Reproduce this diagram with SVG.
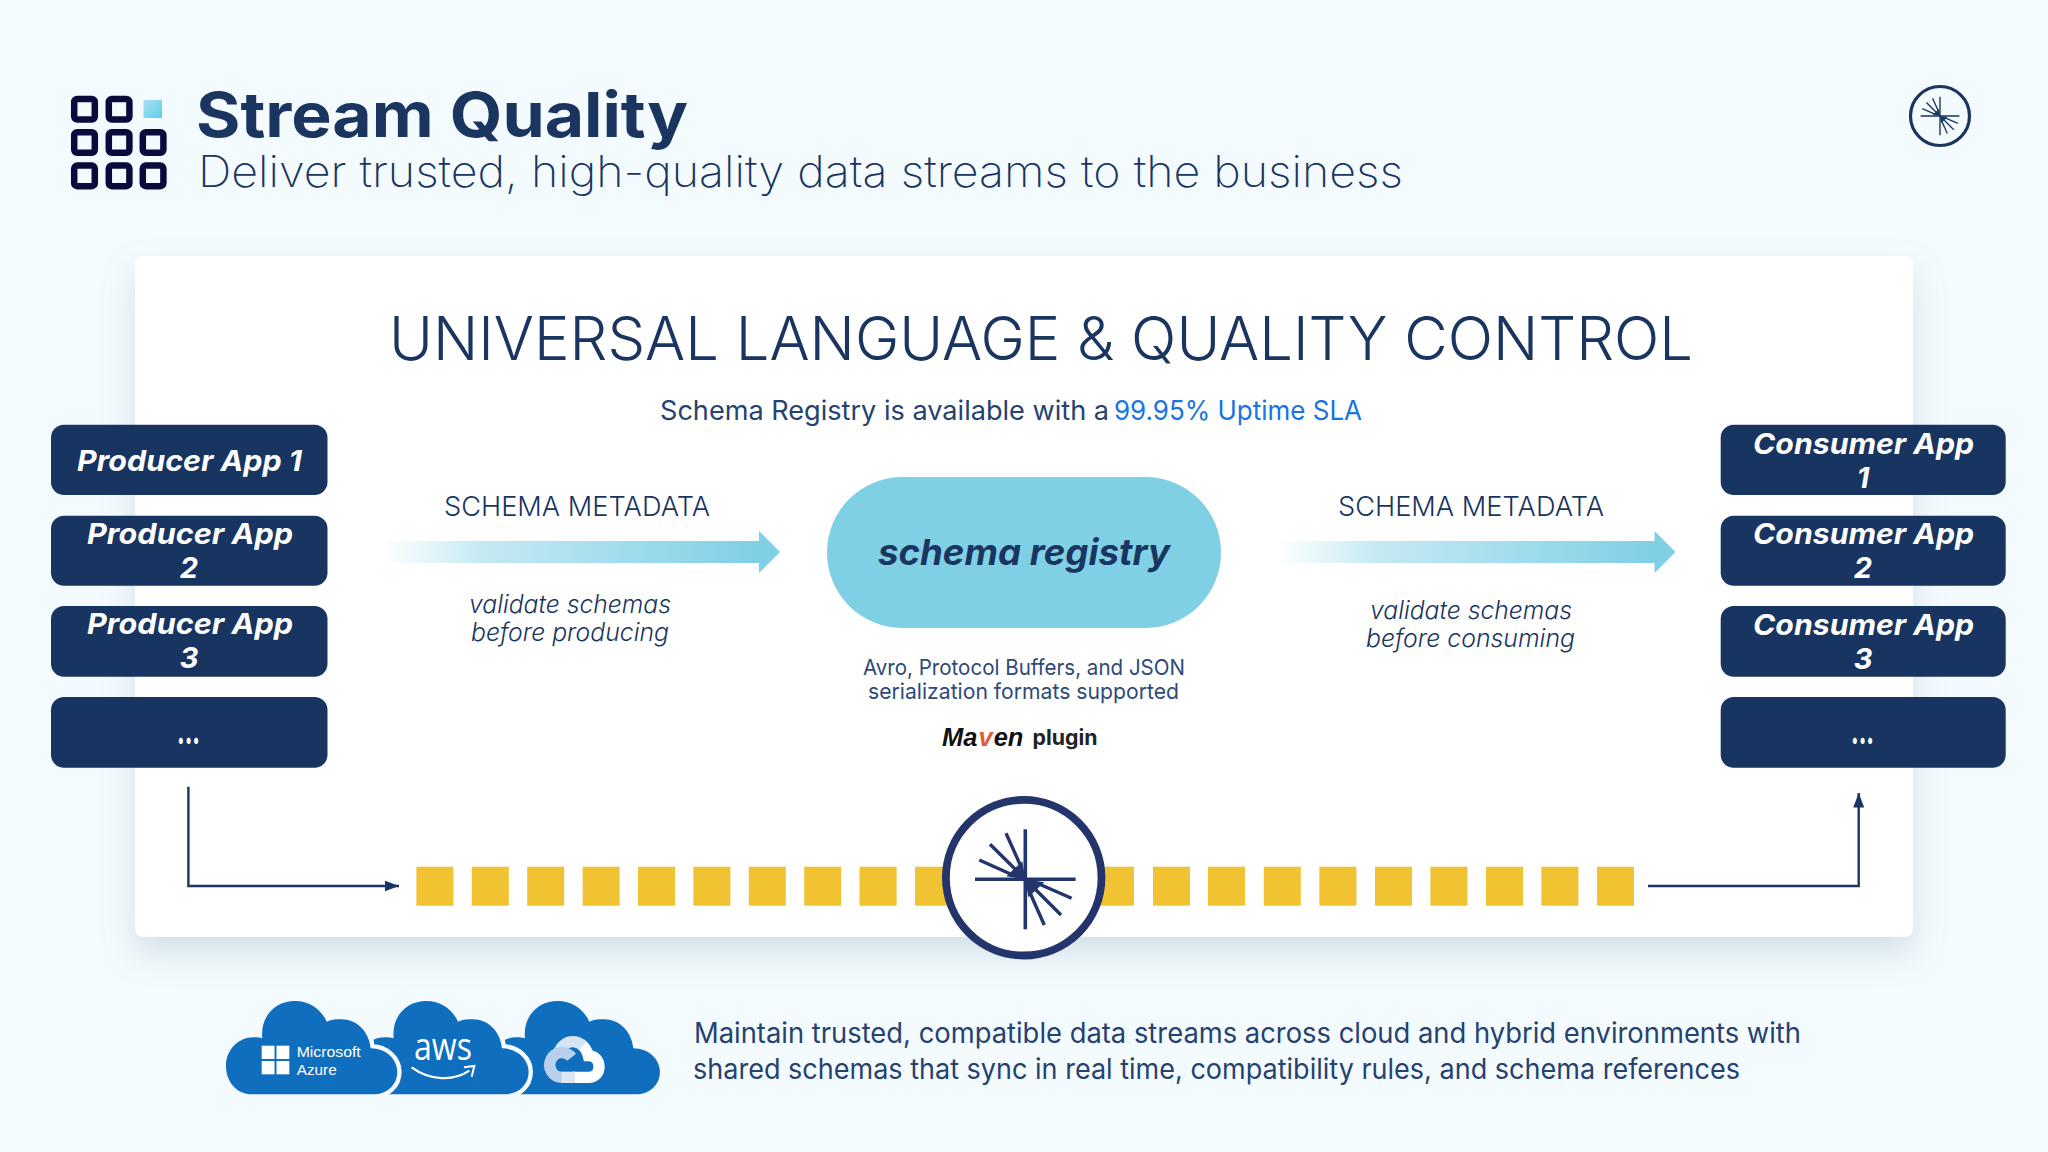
<svg xmlns="http://www.w3.org/2000/svg" xmlns:xlink="http://www.w3.org/1999/xlink" width="2048" height="1152" viewBox="0 0 2048 1152">
<style>
text{font-family:Inter,"Liberation Sans",Arial,sans-serif;fill:#1a3560}
.lt{font-weight:300}
.rg{font-weight:400;fill:#26426f}
.box{fill:#183461}
.bt{fill:#fff;font-weight:700;font-style:italic;font-size:29px}
.dots{fill:#fff;font-weight:800;font-size:34px}
.it{font-style:italic;font-weight:300;font-size:25px}
.meta{font-weight:300;font-size:27px}
.sm{font-size:22px;font-weight:400;fill:#2e4a78}
.body{font-size:28px;font-weight:400;fill:#26426f}
.ico{fill:none;stroke:#0a0a3c;stroke-width:6.5}
.sq{fill:#f1c232}
.conn{fill:none;stroke:#1a3560;stroke-width:2.4}
.ray{stroke-linecap:butt;fill:none}
.cloud{fill:#106ebe;stroke:#f4fbff;stroke-width:26;paint-order:stroke}
.gc{fill:none;stroke-width:34}
.wt{fill:#fff;font-family:"Liberation Sans",Arial,sans-serif}
</style>
<defs>
<linearGradient id="ag" x1="0" y1="0" x2="1" y2="0"><stop offset="0" stop-color="#7fcfe5" stop-opacity="0"/><stop offset=".25" stop-color="#7fcfe5" stop-opacity=".45"/><stop offset=".95" stop-color="#7fcfe5"/></linearGradient>
<linearGradient id="cg" x1="0" y1="0" x2="1" y2="1"><stop offset="0" stop-color="#a9dff0"/><stop offset="1" stop-color="#5dd0ea"/></linearGradient>
<filter id="sh" x="-10%" y="-15%" width="120%" height="135%"><feDropShadow dx="0" dy="16" stdDeviation="16" flood-color="#7f97a8" flood-opacity=".28"/></filter>
<marker id="ah" markerUnits="userSpaceOnUse" markerWidth="16" markerHeight="12" refX="14.5" refY="5.5" orient="auto"><path d="M0 0L14.5 5.5L0 11Z" fill="#1a3560"/></marker>
<polygon id="band" points="382,541 759,541 759,531 780,552 759,573 759,563 382,563" fill="url(#ag)"/>
<path id="cl" d="M125 343C80 343 48 305 48 258C48 210 85 172 130 172C140 172 150 173 157 175C150 110 195 63 255 63C300 63 335 90 350 125C365 118 380 118 395 118C440 118 478 155 482 205C530 205 562 240 562 275C562 315 530 343 490 343Z"/>
<g id="spark" fill="currentColor">
<path d="M-50.3 1.7H50.3V-1.7H-50.3Z"/>
<path d="M-1.8 -50H1.8L1.8 50H-1.8Z"/>
<path d="M-19 -3L-3 -18L0 0Z M19 3L3 18L0 0Z"/>
<g stroke="currentColor" stroke-width="3.4" class="ray">
<path d="M-46 -19.3L-12 -4"/><path d="M-35.3 -35L-8 -8"/><path d="M-19.3 -46L-4 -12"/>
<path d="M46.3 19L12 4"/><path d="M35.7 35.7L8 8"/><path d="M19 45.7L4 12"/>
</g>
</g>
</defs>
<rect width="2048" height="1152" fill="#f4fbff"/>

<g id="header">
<g id="grid-icon">
<rect class="ico" x="74.2" y="98.9" width="20.6" height="20.6" rx="3"/>
<rect class="ico" x="108.8" y="98.9" width="20.6" height="20.6" rx="3"/>
<rect x="143.5" y="100" width="18.5" height="18" fill="url(#cg)"/>
<rect class="ico" x="74.2" y="132.2" width="20.6" height="20.6" rx="3"/>
<rect class="ico" x="108.8" y="132.2" width="20.6" height="20.6" rx="3"/>
<rect class="ico" x="142.8" y="132.2" width="20.6" height="20.6" rx="3"/>
<rect class="ico" x="74.2" y="165.6" width="20.6" height="20.6" rx="3"/>
<rect class="ico" x="108.8" y="165.6" width="20.6" height="20.6" rx="3"/>
<rect class="ico" x="142.8" y="165.6" width="20.6" height="20.6" rx="3"/>
</g>
<text x="196" y="137" font-size="62" font-weight="700" textLength="492" lengthAdjust="spacingAndGlyphs">Stream Quality</text>
<text x="198" y="187" font-size="43" font-weight="200" textLength="1205" lengthAdjust="spacingAndGlyphs">Deliver trusted, high-quality data streams to the business</text>
<g id="corner-logo" color="#1a3560">
<circle cx="1940" cy="116" r="29.5" fill="none" stroke="#1a3560" stroke-width="3.2"/>
<use xlink:href="#spark" href="#spark" transform="translate(1940 116) scale(.385)"/>
</g>
</g>

<g id="card">
<rect x="135" y="256" width="1778" height="681" rx="8" fill="#fff" filter="url(#sh)"/>
<text class="lt" x="389" y="359.5" font-size="60" textLength="1304" lengthAdjust="spacingAndGlyphs">UNIVERSAL LANGUAGE &amp; QUALITY CONTROL</text>
<text class="rg" x="660" y="419.5" font-size="27" textLength="449" lengthAdjust="spacingAndGlyphs">Schema Registry is available with a</text>
<text class="rg" x="1114" y="419.5" font-size="27" style="fill:#1a73e0" textLength="248" lengthAdjust="spacingAndGlyphs">99.95% Uptime SLA</text>
</g>

<g id="connectors">
<use xlink:href="#band" href="#band"/>
<use xlink:href="#band" href="#band" transform="translate(895.5 0)"/>
<path class="conn" d="M188.4 786.7V886H399" marker-end="url(#ah)"/>
<path class="conn" d="M1648 886H1858.7V793" marker-end="url(#ah)"/>
</g>

<g id="labels">
<text class="meta" x="444" y="516" textLength="266" lengthAdjust="spacingAndGlyphs">SCHEMA METADATA</text>
<text class="meta" x="1338" y="516" textLength="266" lengthAdjust="spacingAndGlyphs">SCHEMA METADATA</text>
<text class="it" x="469" y="613" textLength="202" lengthAdjust="spacingAndGlyphs">validate schemas</text>
<text class="it" x="471" y="641" textLength="198" lengthAdjust="spacingAndGlyphs">before producing</text>
<text class="it" x="1370" y="619" textLength="202" lengthAdjust="spacingAndGlyphs">validate schemas</text>
<text class="it" x="1366" y="647" textLength="209" lengthAdjust="spacingAndGlyphs">before consuming</text>
</g>

<g id="producer-1"><rect class="box" x="51" y="424.7" width="276.5" height="70.3" rx="13"/><text class="bt" x="77" y="471" textLength="225" lengthAdjust="spacingAndGlyphs">Producer App 1</text></g>
<g id="producer-2"><rect class="box" x="51" y="515.7" width="276.5" height="70" rx="13"/><text class="bt" x="87" y="544" textLength="206" lengthAdjust="spacingAndGlyphs">Producer App</text><text class="bt" x="189" y="578" text-anchor="middle">2</text></g>
<g id="producer-3"><rect class="box" x="51" y="606" width="276.5" height="70.7" rx="13"/><text class="bt" x="87" y="634" textLength="206" lengthAdjust="spacingAndGlyphs">Producer App</text><text class="bt" x="189" y="668" text-anchor="middle">3</text></g>
<g id="producer-more"><rect class="box" x="51" y="697" width="276.5" height="70.7" rx="13"/><text class="dots" x="188.5" y="743.5" text-anchor="middle" textLength="23" lengthAdjust="spacingAndGlyphs">...</text></g>

<g id="consumer-1"><rect class="box" x="1720.7" y="424.7" width="285" height="70.3" rx="13"/><text class="bt" x="1753" y="454" textLength="221" lengthAdjust="spacingAndGlyphs">Consumer App</text><text class="bt" x="1863" y="487.5" text-anchor="middle">1</text></g>
<g id="consumer-2"><rect class="box" x="1720.7" y="515.7" width="285" height="70" rx="13"/><text class="bt" x="1753" y="544" textLength="221" lengthAdjust="spacingAndGlyphs">Consumer App</text><text class="bt" x="1863" y="578" text-anchor="middle">2</text></g>
<g id="consumer-3"><rect class="box" x="1720.7" y="606" width="285" height="70.7" rx="13"/><text class="bt" x="1753" y="635" textLength="221" lengthAdjust="spacingAndGlyphs">Consumer App</text><text class="bt" x="1863" y="669" text-anchor="middle">3</text></g>
<g id="consumer-more"><rect class="box" x="1720.7" y="697" width="285" height="70.7" rx="13"/><text class="dots" x="1862.5" y="743.5" text-anchor="middle" textLength="23" lengthAdjust="spacingAndGlyphs">...</text></g>

<g id="schema-registry">
<rect x="827" y="477" width="394" height="151" rx="75.5" fill="#7fcfe5"/>
<text x="878" y="565" font-size="36" font-weight="700" font-style="italic" textLength="292" lengthAdjust="spacingAndGlyphs">schema registry</text>
<text class="sm" x="863" y="674.5" textLength="322" lengthAdjust="spacingAndGlyphs">Avro, Protocol Buffers, and JSON</text>
<text class="sm" x="868" y="698.5" textLength="311" lengthAdjust="spacingAndGlyphs">serialization formats supported</text>
<text x="942" y="746" font-size="25.5" font-weight="700" font-style="italic" style="font-family:'Liberation Sans',sans-serif;fill:#111">Ma<tspan style="fill:#d9603a" dx="1">v</tspan><tspan dx="1">en</tspan></text>
<text x="1032.5" y="745" font-size="21" font-weight="700" style="fill:#222" textLength="65" lengthAdjust="spacingAndGlyphs">plugin</text>
</g>

<g id="stream">
<rect class="sq" x="416.4" y="866.7" width="37" height="39"/><rect class="sq" x="471.8" y="866.7" width="37" height="39"/><rect class="sq" x="527.2" y="866.7" width="37" height="39"/><rect class="sq" x="582.6" y="866.7" width="37" height="39"/><rect class="sq" x="638" y="866.7" width="37" height="39"/><rect class="sq" x="693.4" y="866.7" width="37" height="39"/><rect class="sq" x="748.8" y="866.7" width="37" height="39"/><rect class="sq" x="804.2" y="866.7" width="37" height="39"/><rect class="sq" x="859.6" y="866.7" width="37" height="39"/><rect class="sq" x="915" y="866.7" width="37" height="39"/>
<rect class="sq" x="1097" y="866.7" width="37" height="39"/><rect class="sq" x="1153" y="866.7" width="37" height="39"/><rect class="sq" x="1208" y="866.7" width="37" height="39"/><rect class="sq" x="1263.8" y="866.7" width="37" height="39"/><rect class="sq" x="1319.4" y="866.7" width="37" height="39"/><rect class="sq" x="1375" y="866.7" width="37" height="39"/><rect class="sq" x="1430.4" y="866.7" width="37" height="39"/><rect class="sq" x="1486" y="866.7" width="37" height="39"/><rect class="sq" x="1541.4" y="866.7" width="37" height="39"/><rect class="sq" x="1597" y="866.7" width="37" height="39"/>
</g>
<g id="hub-logo" color="#24356b">
<circle cx="1023.7" cy="877.7" r="77.8" fill="#fff" stroke="#24356b" stroke-width="7.8"/>
<use xlink:href="#spark" href="#spark" transform="translate(1025.3 879.3)"/>
</g>

<g id="clouds">
<g transform="translate(210 980) scale(.3333)">
<use xlink:href="#cl" href="#cl" class="cloud" transform="translate(788 0)"/>
<use xlink:href="#cl" href="#cl" class="cloud" transform="translate(394 0)"/>
<use xlink:href="#cl" href="#cl" class="cloud"/>
</g>
<g id="azure">
<rect x="261.7" y="1045.7" width="12.8" height="13.3" fill="#fff"/><rect x="276.5" y="1045.7" width="12.8" height="13.3" fill="#fff"/><rect x="261.7" y="1061" width="12.8" height="13.3" fill="#fff"/><rect x="276.5" y="1061" width="12.8" height="13.3" fill="#fff"/>
<text class="wt" x="296.7" y="1056.5" font-size="15.5" textLength="64" lengthAdjust="spacingAndGlyphs">Microsoft</text>
<text class="wt" x="296.7" y="1074.5" font-size="15.5" textLength="40" lengthAdjust="spacingAndGlyphs">Azure</text>
</g>
<g id="aws">
<text class="wt" x="414" y="1060" font-size="38" style="font-family:'Open Sans',sans-serif;font-weight:500" textLength="58" lengthAdjust="spacingAndGlyphs">aws</text>
<g transform="translate(210 980) scale(.3333)" fill="none" stroke="#fff" stroke-width="7"><path d="M605 262C660 302 730 305 778 272"/><path d="M762 262L793 258L785 290" stroke-width="6"/></g>
</g>
<g id="gcloud" transform="translate(531 1015) scale(.3333)">
<path class="gc" stroke="#fff" d="M125 187H172C195 187 204 170 204 155C204 135 190 122 172 122C168 106 160 95 150 88"/>
<path class="gc" stroke="#d6e4f4" d="M82 115C90 92 108 80 125 80C135 80 145 83 156 92"/>
<path class="gc" stroke="#dce8f5" d="M90 187H132"/>
<path class="gc" stroke="#b9d0ea" d="M122 127A37 37 0 1 0 92 187"/>
</g>
</g>

<g id="footer-text">
<text class="body" x="694" y="1042.5" textLength="1107" lengthAdjust="spacingAndGlyphs">Maintain trusted, compatible data streams across cloud and hybrid environments with</text>
<text class="body" x="693" y="1078.5" textLength="1047" lengthAdjust="spacingAndGlyphs">shared schemas that sync in real time, compatibility rules, and schema references</text>
</g>
</svg>
